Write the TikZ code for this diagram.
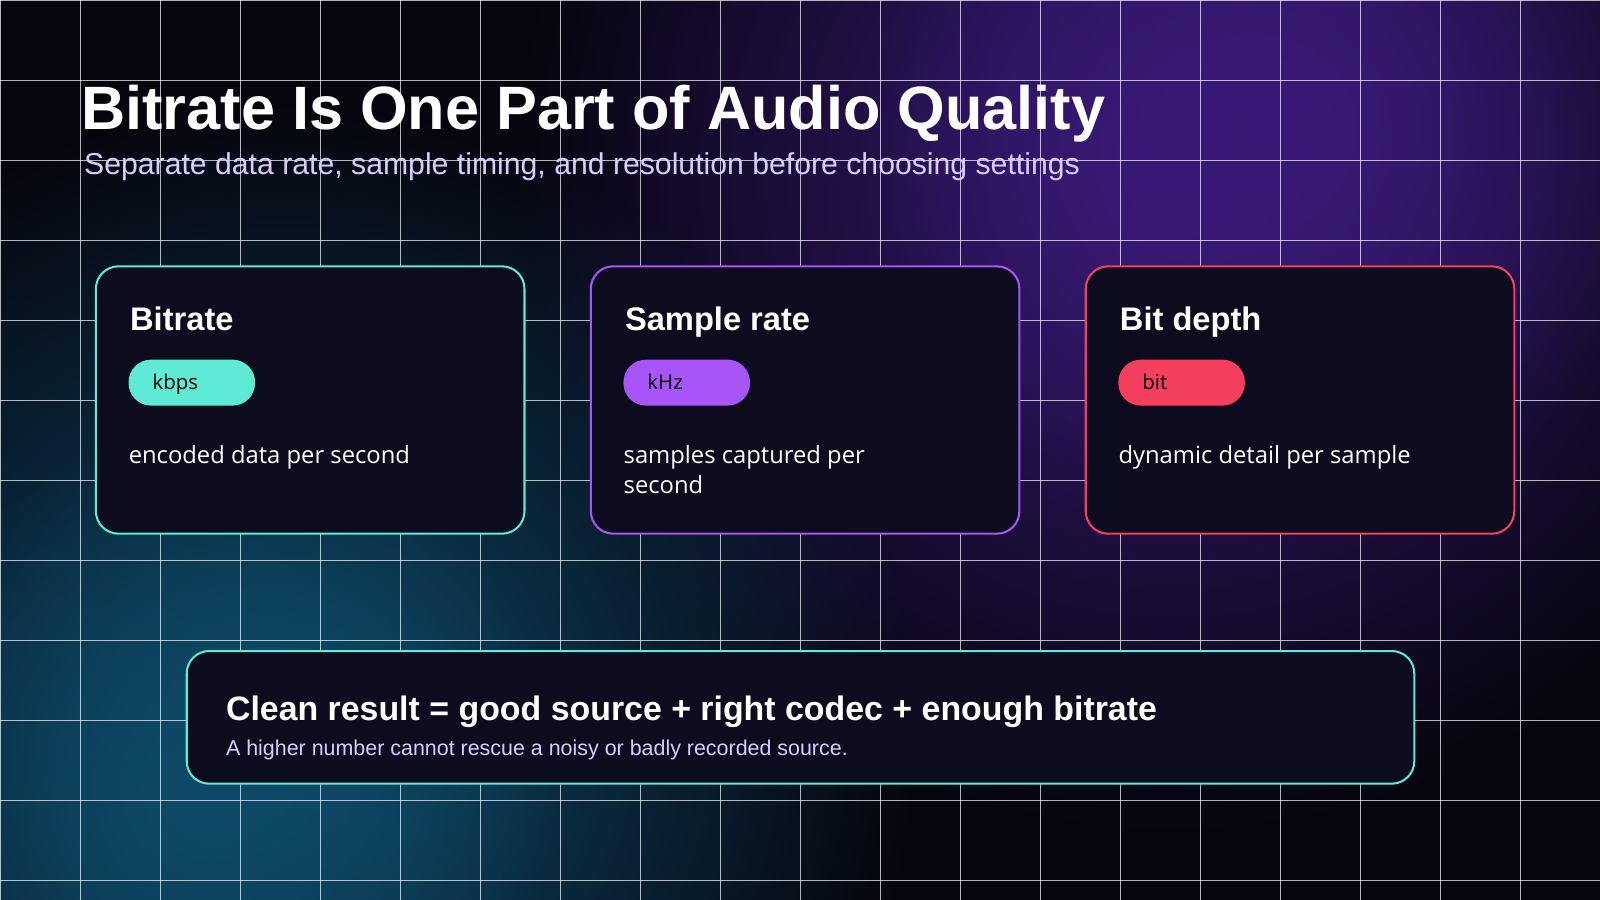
\documentclass[tikz,border=0pt]{standalone}
\usepackage{fontspec}
\setmainfont{Liberation Sans}
\newfontfamily\bodyf{Open Sans}
\usetikzlibrary{fadings}
\tikzfading[name=glow, inner color=transparent!0, outer color=transparent!100]
\definecolor{bg}{HTML}{06050D}
\definecolor{card}{HTML}{0D0C1E}
\definecolor{teal}{HTML}{5EEAD4}
\definecolor{vio}{HTML}{A855F7}
\definecolor{rose}{HTML}{F43F5E}
\definecolor{glowp}{HTML}{3A1A78}
\definecolor{glowt}{HTML}{0E4A68}
\definecolor{sub}{HTML}{D8CCFF}
\begin{document}
\begin{tikzpicture}[x=1pt,y=-1pt,
  cardbox/.style={draw=#1,line width=2pt,fill=card,rounded corners=22pt},
  pill/.style={fill=#1,rounded corners=22pt,minimum width=124pt,minimum height=45pt,inner sep=0pt},
  pilltext/.style={anchor=base west,font=\bodyf\fontsize{20}{24}\selectfont,text=black},
  ctitle/.style={anchor=base west,font=\bfseries\fontsize{32}{36}\selectfont,text=white},
  cbody/.style={anchor=north west,inner sep=0pt,align=left,font=\bodyf\fontsize{23.3}{29.5}\selectfont,text=white}]
\useasboundingbox (0,0) rectangle (1568,882);
\fill[bg] (0,0) rectangle (1568,882);
\begin{scope}
\clip (0,0) rectangle (1568,882);
\fill[glowp,path fading=glow] (1150,170) circle (650);
\fill[glowp,path fading=glow] (1250,120) circle (400);
\fill[glowt,path fading=glow] (280,720) circle (620);
\fill[glowt,path fading=glow] (200,780) circle (350);
\foreach \i in {0,...,20} \draw[white,opacity=0.7,line width=0.9pt] (\i*78.4,0) -- (\i*78.4,882);
\foreach \i in {0,...,11} \draw[white,opacity=0.7,line width=0.9pt] (0,\i*78.4) -- (1568,\i*78.4);
\end{scope}
\node[anchor=base west,font=\bfseries\fontsize{60}{66}\selectfont,text=white] (title) at (76,127) {Bitrate Is One Part of Audio Quality};
\node[anchor=base west,font=\fontsize{29.6}{33}\selectfont,text=sub] (subt) at (79,171) {Separate data rate, sample timing, and resolution before choosing settings};
% cards
\draw[cardbox=teal] (94,261) rectangle (514,523);
\node[ctitle] (t1) at (124,324) {Bitrate};
\node[pill=teal] (p1) at (188,375) {};
\node[pilltext] at (146,382) {kbps};
\node[cbody] (b1) at (126,436) {encoded data per second};
\draw[cardbox=vio] (579,261) rectangle (999,523);
\node[ctitle] (t2) at (609,324) {Sample rate};
\node[pill=vio] (p2) at (673,375) {};
\node[pilltext] at (631,382) {kHz};
\node[cbody] (b2) at (611,436) {samples captured per\\second};
\draw[cardbox=rose] (1064,261) rectangle (1484,523);
\node[ctitle] (t3) at (1094,324) {Bit depth};
\node[pill=rose] (p3) at (1158,375) {};
\node[pilltext] at (1116,382) {bit};
\node[cbody] (b3) at (1096,436) {dynamic detail per sample};
% bottom
\draw[cardbox=teal] (183,638) rectangle (1386,768);
\node[anchor=base west,font=\bfseries\fontsize{33.2}{38}\selectfont,text=white] (k1) at (218,706) {Clean result = good source + right codec + enough bitrate};
\node[anchor=base west,font=\fontsize{21}{25}\selectfont,text=sub] (k2) at (218,740) {A higher number cannot rescue a noisy or badly recorded source.};
\end{tikzpicture}
\end{document}
